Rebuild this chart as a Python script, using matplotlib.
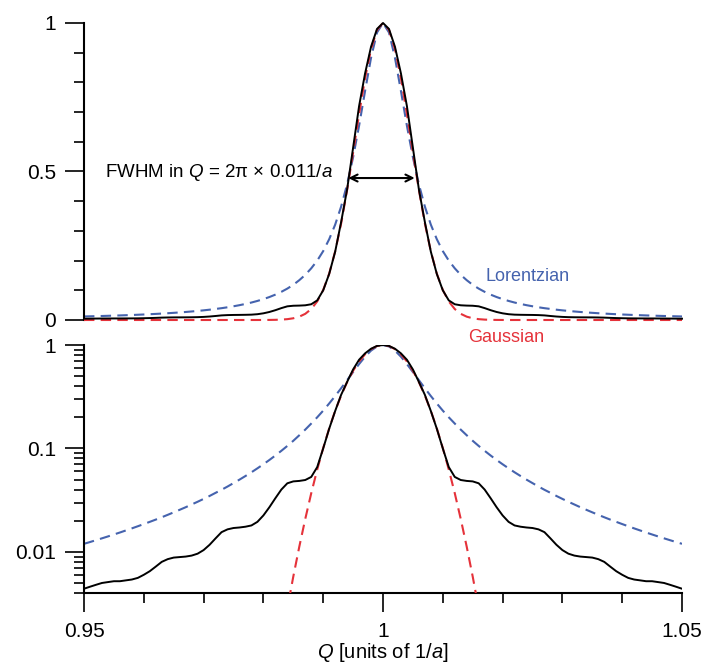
import numpy as np
import matplotlib
matplotlib.use('Agg')
import matplotlib.pyplot as plt
from matplotlib.ticker import FixedLocator, MultipleLocator, LogLocator, NullFormatter

plt.rcParams['font.family'] = ['Liberation Sans', 'DejaVu Sans']
plt.rcParams['mathtext.fontset'] = 'custom'
plt.rcParams['mathtext.rm'] = 'Liberation Sans'
plt.rcParams['mathtext.it'] = 'Liberation Sans:italic'

# half profiles, offset from Q = 1 in steps of 0.001 (curves are symmetric)
dq = np.round(np.arange(0, 0.0505, 0.001), 3)

measured = [1.0, 0.98, 0.92, 0.83, 0.72, 0.58, 0.44, 0.33, 0.23, 0.155,
            0.10, 0.066, 0.053, 0.0495, 0.0485, 0.048, 0.046, 0.040, 0.033, 0.027,
            0.0225, 0.0195, 0.018, 0.0175, 0.0172, 0.0170, 0.0165, 0.0155, 0.0135, 0.0117,
            0.0104, 0.0096, 0.0092, 0.0090, 0.0089, 0.0088, 0.0085, 0.0080, 0.0072, 0.0065,
            0.0060, 0.0056, 0.0054, 0.0053, 0.0052, 0.0052, 0.0051, 0.0050, 0.0048, 0.0046,
            0.0044]
lorentz = [1.0, 0.968, 0.883, 0.771, 0.654, 0.548, 0.457, 0.382, 0.321, 0.272,
           0.232, 0.200, 0.174, 0.152, 0.134, 0.1185, 0.1057, 0.0948, 0.0854, 0.0773,
           0.0703, 0.0642, 0.0588, 0.0541, 0.0499, 0.0462, 0.0428, 0.0398, 0.0372, 0.0347,
           0.0325, 0.0305, 0.0287, 0.0270, 0.0255, 0.0241, 0.0228, 0.0216, 0.0205, 0.0195,
           0.01856, 0.01768, 0.01686, 0.01610, 0.01538, 0.01472, 0.01409, 0.01351, 0.01296, 0.01244,
           0.01196]
gauss = [1.0, 0.977, 0.912, 0.814, 0.693, 0.564, 0.438, 0.325, 0.231, 0.156,
         0.101, 0.0625, 0.0369, 0.0208, 0.0112, 0.00577, 0.00283, 0.00133, 0.000597, 0.000256,
         0.000105] + [0.0] * 30

def mirror(v):
    v = np.array(v)
    return np.concatenate([v[::-1], v[1:]])

Q = np.concatenate([1 - dq[::-1], 1 + dq[1:]])
I_meas = mirror(measured)
I_lor = mirror(lorentz)
I_gau = mirror(gauss)

blue = '#4563AE'
red = '#E5323A'

fig = plt.figure(figsize=(7.02, 6.65), dpi=100)
ax1 = fig.add_axes([0.11966, 0.51880, 0.85185, 0.44662])
ax2 = fig.add_axes([0.11966, 0.10827, 0.85185, 0.37293])

for ax in (ax1, ax2):
    ax.plot(Q, I_lor, color=blue, lw=1.5, dashes=(5, 3), zorder=2)
    ax.plot(Q, I_gau, color=red, lw=1.5, dashes=(5, 3), zorder=3)
    ax.plot(Q, I_meas, color='black', lw=1.4, zorder=4, solid_joinstyle='round')
    ax.set_xlim(0.95, 1.05)
    for s in ['top', 'right']:
        ax.spines[s].set_visible(False)
    ax.spines['left'].set_linewidth(1.5)
    ax.spines['bottom'].set_linewidth(1.5)
    ax.tick_params(which='major', direction='out', length=14, width=1.2, labelsize=15, pad=6)
    ax.tick_params(which='minor', direction='out', length=7, width=1.2)

# top panel: linear
for ln in ax1.lines:
    ln.set_clip_on(False)
ax1.set_ylim(0, 1)
ax1.spines['bottom'].set_visible(False)
ax1.set_xticks([])
ax1.yaxis.set_major_locator(FixedLocator([0, 0.5, 1]))
ax1.set_yticklabels(['0', '0.5', '1'])
ax1.yaxis.set_minor_locator(MultipleLocator(0.1))

ax1.annotate('', xy=(0.9942, 0.478), xytext=(1.0053, 0.478),
             arrowprops=dict(arrowstyle='<->,head_length=0.5,head_width=0.25',
                             color='black', lw=1.5, shrinkA=0, shrinkB=0))
ax1.text(0.9535, 0.497, 'FWHM in $Q$ = 2π × 0.011/$a$', fontsize=13.5, va='center', ha='left')
ax1.text(1.0171, 0.147, 'Lorentzian', color=blue, fontsize=13, va='center', ha='left')
ax1.text(1.0142, -0.06, 'Gaussian', color=red, fontsize=13, va='center', ha='left',
         clip_on=False)

# bottom panel: log
ax2.set_yscale('log')
ax2.set_ylim(0.004, 1)
ax2.yaxis.set_major_locator(FixedLocator([0.01, 0.1, 1]))
ax2.yaxis.set_minor_locator(LogLocator(base=10, subs=np.arange(2, 10)))
ax2.yaxis.set_minor_formatter(NullFormatter())
ax2.set_yticklabels(['0.01', '0.1', '1'])
ax2.xaxis.set_major_locator(FixedLocator([0.95, 1.0, 1.05]))
ax2.xaxis.set_minor_locator(MultipleLocator(0.01))
ax2.set_xticklabels(['0.95', '1', '1.05'])
ax2.tick_params(axis='x', which='major', pad=7)

fig.text(383 / 702, 1 - 652 / 665, '$Q$ [units of 1/$a$]', fontsize=14.5,
         ha='center', va='center')

fig.savefig('out.png', dpi=100)
